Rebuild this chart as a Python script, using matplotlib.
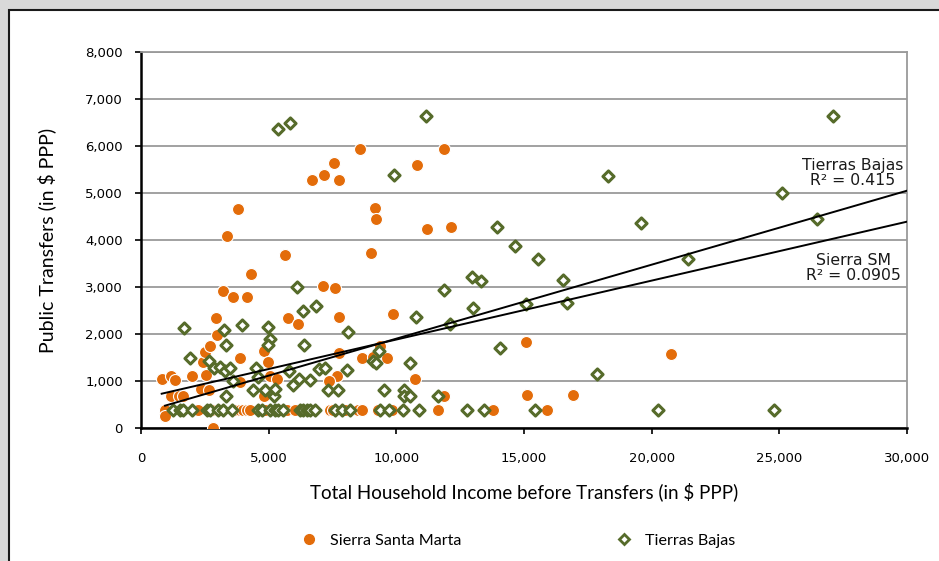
import matplotlib
matplotlib.use("Agg")
import matplotlib.pyplot as plt
from matplotlib.patches import Rectangle
from matplotlib.lines import Line2D
from matplotlib.ticker import StrMethodFormatter, MultipleLocator

# Sierra Santa Marta (income before transfers, public transfers)
ssm_x = [824, 1163, 1333, 1163, 1503, 1660, 928, 1987, 2340, 2418, 2510, 2562,
         2680, 2719, 2941, 2993, 2837, 3216, 3373, 3595, 3817, 3882, 3882, 4144,
         4314, 4823, 4823, 4980, 5059, 5320, 5647, 5765, 6157, 6706, 7150, 7542,
         7752, 7137, 7595, 7752, 7752, 7660, 7373, 8588, 8654, 9020, 9150, 9203,
         9346, 9085, 9647, 9882, 10745, 10797, 11190, 11856, 11856, 12131, 15068,
         20760, 15107, 16934]
ssm_y = [1043, 1100, 1029, 681, 681, 681, 263, 1100, 830, 1398, 1625, 1128,
         809, 1746, 2335, 1980, 0, 2910, 4081, 2789, 4656, 1490, 987, 2789,
         3272, 681, 1632, 1412, 1100, 1043, 3691, 2342, 2214, 5287, 5373, 5642,
         5287, 3031, 2974, 2370, 1590, 1107, 1001, 5926, 1490, 3726, 4691, 4443,
         1746, 1519, 1490, 2434, 1043, 5593, 4230, 5926, 681, 4270, 1837,
         1567, 695, 695]
# households receiving the minimum transfer
ssm_min_x = [941, 2118, 2248, 2771, 2902, 3033, 3752, 3882, 4013, 4144, 4275,
             4863, 5386, 5712, 6039, 6758, 7403, 7534, 8000, 8512, 8645, 9295,
             9820, 10274, 11622, 13800, 15891]
ssm_min_y = [390] * len(ssm_min_x)

# Tierras Bajas
tb_x = [1699, 1935, 2680, 2850, 3098, 3307, 3490, 3268, 3320, 3320, 3595, 3948,
        4405, 4510, 4588, 4980, 5059, 4967, 4863, 5190, 5242, 5359, 5830, 5791,
        5935, 6105, 6170, 6327, 6366, 6601, 6837, 6954, 7216, 7333, 7699, 8065,
        8105, 9072, 9203, 9307, 9503, 9895, 10288, 10288, 10549, 10523, 10758,
        11163, 11856, 11634, 12118, 13957, 14662, 15538, 12978, 13305, 16517,
        18305, 19597, 21438, 12992, 15080, 16674, 14062, 17849, 25108, 26491,
        27093]
tb_y = [2129, 1490, 1434, 1270, 1292, 1221, 1270, 2094, 1760, 681, 1008, 2186,
        816, 1270, 1079, 2143, 1888, 1760, 816, 681, 830, 6366, 6487, 1221,
        908, 3009, 1043, 2484, 1760, 1029, 2605, 1249, 1270, 816, 816, 1235,
        2037, 1434, 1384, 1647, 816, 5373, 816, 681, 681, 1377, 2370,
        6643, 2938, 681, 2214, 4270, 3866, 3596, 3206, 3135, 3149,
        5362, 4355, 3603, 2560, 2631, 2652, 1709, 1142, 5007, 4440,
        6645]
tb_min_x = [1253, 1527, 1645, 1998, 2585, 2703, 3016, 3212, 3565, 4583, 4740,
            5053, 5249, 5367, 5563, 6229, 6347, 6504, 6621, 6817, 7599, 7860,
            8186, 9361, 9714, 10250, 10901, 12781, 13435, 15433, 20263, 24794]
tb_min_y = [390] * len(tb_min_x)

# linear trendlines (start x, end x, intercept, slope)
ssm_trend = (810, 30000, 628, 0.1254)
tb_trend = (941, 30000, 327, 0.1574)

orange = "#e36c0a"
green = "#566b2a"

plt.rcParams["font.family"] = ["DejaVu Sans"]

fig = plt.figure(figsize=(9.39, 5.61), dpi=100, facecolor="#d9d9d9")
fig.patches.append(Rectangle((9 / 939, -0.05), 1.2, 1.05 - 10 / 561,
                             transform=fig.transFigure, facecolor="white",
                             edgecolor="#1a1a1a", linewidth=1.5, zorder=-5))

ax = fig.add_axes([141 / 939, 1 - 428 / 561, 766 / 939, 376 / 561])
ax.set_facecolor("white")

ax.scatter(ssm_min_x, ssm_min_y, s=75, marker="o", color=orange,
           edgecolors="white", linewidths=0.8, zorder=3)
ax.scatter(ssm_x, ssm_y, s=75, marker="o", color=orange,
           edgecolors="white", linewidths=0.8, zorder=3)
ax.scatter(tb_min_x, tb_min_y, s=32, marker="D", facecolor="white",
           edgecolors=green, linewidths=2.2, zorder=4)
ax.scatter(tb_x, tb_y, s=32, marker="D", facecolor="white",
           edgecolors=green, linewidths=2.2, zorder=4)

for x0, x1, b, m in (ssm_trend, tb_trend):
    ax.plot([x0, x1], [b + m * x0, b + m * x1], color="black", lw=1.4, zorder=5)

ax.text(27890, 5430, "Tierras Bajas\nR² = 0.415", ha="center", va="center",
        fontsize=11.3, color="#1a1a1a", linespacing=1.0, zorder=6)
ax.text(27890, 3400, "Sierra SM\nR² = 0.0905", ha="center", va="center",
        fontsize=11.3, color="#1a1a1a", linespacing=1.0, zorder=6)

ax.set_xlim(0, 30000)
ax.set_ylim(0, 8000)
ax.xaxis.set_major_locator(MultipleLocator(5000))
ax.yaxis.set_major_locator(MultipleLocator(1000))
ax.xaxis.set_major_formatter(StrMethodFormatter("{x:,.0f}"))
ax.yaxis.set_major_formatter(StrMethodFormatter("{x:,.0f}"))
ax.grid(axis="y", color="#9a9a9a", lw=1.3, zorder=1)
ax.set_axisbelow(True)
for s in ("left", "bottom"):
    ax.spines[s].set_color("black")
    ax.spines[s].set_linewidth(1.8)
for s in ("top", "right"):
    ax.spines[s].set_color("#9a9a9a")
    ax.spines[s].set_linewidth(1.3)
ax.tick_params(axis="both", direction="out", length=4, width=1.2,
               labelsize=9.5, colors="black", pad=9)
ax.tick_params(axis="x", pad=13)

label_font = ["Lato", "DejaVu Sans"]
ax.set_xlabel("Total Household Income before Transfers (in $ PPP)",
              fontsize=13.5, family=label_font, labelpad=13)
ax.set_ylabel("Public Transfers (in $ PPP)", fontsize=14, family=label_font,
              labelpad=21)

handles = [
    Line2D([], [], marker="o", ls="none", color=orange, markersize=7),
    Line2D([], [], marker="D", ls="none", markerfacecolor="white",
           markeredgecolor=green, markeredgewidth=2, markersize=5),
]
fig.legend(handles, ["Sierra Santa Marta", "Tierras Bajas"], loc="center",
           bbox_to_anchor=(0.5475, 0.036), ncol=2, frameon=False,
           prop={"family": label_font, "size": 11.6}, columnspacing=9.1,
           handletextpad=0.3)

fig.savefig("out.png", dpi=100, facecolor=fig.get_facecolor())
